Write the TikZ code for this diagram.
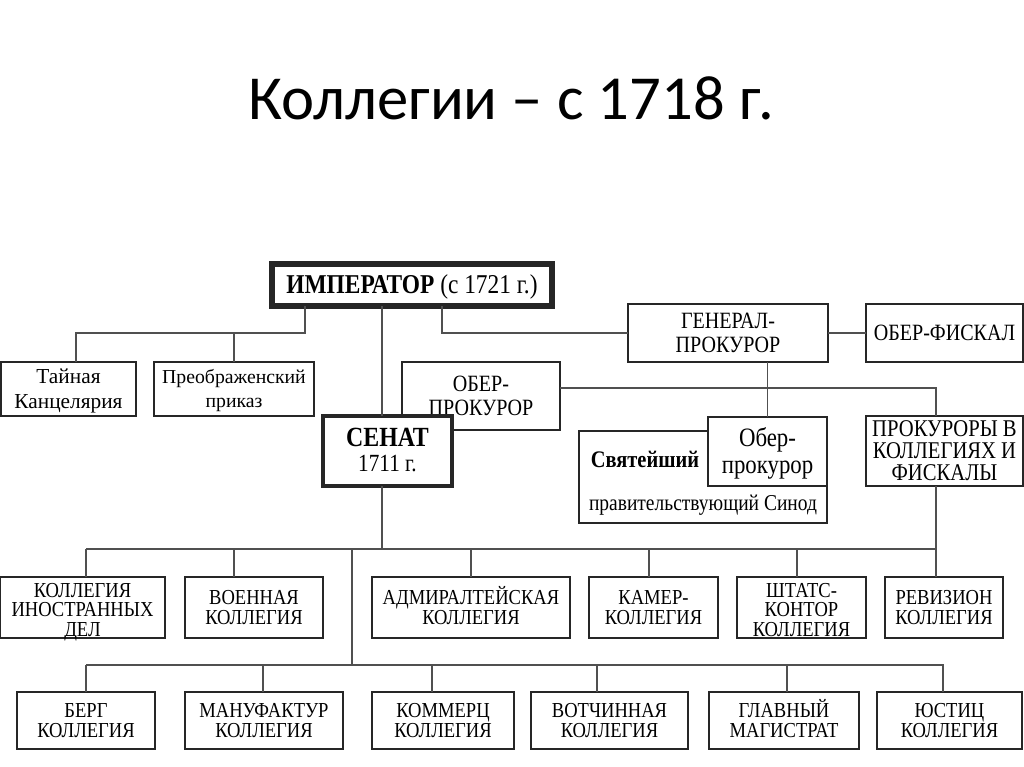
\documentclass[tikz,border=0pt]{standalone}
\usepackage{fontspec}
\setmainfont{Liberation Serif}[FakeStretch=0.86]
\newfontfamily\normfont{Liberation Serif}
\newfontfamily\collfont{Liberation Serif}[FakeStretch=0.87]
\newfontfamily\titlefont{Carlito}
\definecolor{boxc}{HTML}{262626}
\definecolor{linec}{HTML}{505050}
\newcommand\fTop{\fontsize{17.5}{17.5}\selectfont}
\newcommand\fColl{\collfont\fontsize{16}{14.7}\selectfont}
\newcommand\lowr{\rule{0pt}{17.5pt}}
\tikzset{
  box/.style={draw=boxc, line width=2.2pt, fill=white, inner sep=0pt, outer sep=0pt},
  coll/.style={box, line width=1.5pt},
  conn/.style={draw=linec, line width=1.2pt},
  txt/.style={inner sep=0pt, align=center, execute at begin node={\lineskiplimit=-50pt}},
}
% [box options]{x1}{y1}{x2}{y2}{name}{font}{text}
\newcommand\mybox[8][]{%
  \node[box,#1, minimum width={(#4-#2)*0.75pt}, minimum height={(#5-#3)*0.75pt}] (#6) at ({(#2+#4)/2},{(#3+#5)/2}) {};
  \node[txt, font=#7] (#6t) at (#6.center) {\vphantom{Й}#8\vphantom{Д}};}
\begin{document}
\begin{tikzpicture}[x=0.75pt,y=-0.75pt]
\useasboundingbox[fill=white] (0,0) rectangle (1024,767);
\node[txt, anchor=base, font=\titlefont\fontsize{47}{52}\selectfont] (title) at (511,119) {Коллегии – с 1718 г.};

% top level
\mybox[line width=4pt]{272}{264}{552}{306}{emp}{\fontsize{20.4}{22}\selectfont}{\textbf{ИМПЕРАТОР} (с 1721 г.)}
\mybox{1}{362}{136}{416}{tai}{\normfont\fontsize{16}{18.75}\selectfont}{Тайная\\Канцелярия}
\mybox{154}{362}{314}{416}{pre}{\normfont\fontsize{14.8}{18}\selectfont}{Преображенский\\приказ}
\mybox{628}{304}{828}{362}{gen}{\fTop}{ГЕНЕРАЛ-\\ПРОКУРОР}
\mybox{866}{304}{1023}{362}{fis}{\fTop}{ОБЕР-ФИСКАЛ}
\mybox{402}{362}{560}{430}{opr}{\fTop}{ОБЕР-\\ПРОКУРОР}
\mybox[line width=2.6pt]{323}{416}{452}{486}{sen}{\fontsize{18.5}{19}\selectfont}{{\fontsize{20.8}{20}\selectfont\bfseries СЕНАТ}\\1711 г.}
\mybox{579}{431}{827}{523}{syn}{\fTop}{}
\mybox{708}{417}{827}{486}{sop}{\fontsize{19.9}{20.5}\selectfont}{Обер-\\прокурор}
\node[txt, font=\fontsize{17.8}{17}\selectfont\bfseries] (synA) at (645,459) {Святейший};
\node[txt, font=\fontsize{17}{17}\selectfont] (synB) at (703,505) {правительствующий Синод};
\mybox{866}{416}{1023}{486}{pro}{\fontsize{18}{16.5}\selectfont}{ПРОКУРОРЫ В\\КОЛЛЕГИЯХ И\\ФИСКАЛЫ}

% row 1
\mybox[coll]{0}{577}{165}{638}{r1a}{\fColl}{\lowr КОЛЛЕГИЯ\\ИНОСТРАННЫХ\\ДЕЛ}
\mybox[coll]{185}{577}{323}{638}{r1b}{\fColl}{ВОЕННАЯ\\КОЛЛЕГИЯ}
\mybox[coll]{372}{577}{570}{638}{r1c}{\fColl}{АДМИРАЛТЕЙСКАЯ\\КОЛЛЕГИЯ}
\mybox[coll]{589}{577}{718}{638}{r1d}{\fColl}{КАМЕР-\\КОЛЛЕГИЯ}
\mybox[coll]{737}{577}{866}{638}{r1e}{\fColl}{\lowr ШТАТС-\\КОНТОР\\КОЛЛЕГИЯ}
\mybox[coll]{885}{577}{1003}{638}{r1f}{\fColl}{РЕВИЗИОН\\КОЛЛЕГИЯ}
% row 2
\mybox[coll]{17}{692}{155}{749}{r2a}{\fColl}{БЕРГ\\КОЛЛЕГИЯ}
\mybox[coll]{185}{692}{343}{749}{r2b}{\fColl}{МАНУФАКТУР\\КОЛЛЕГИЯ}
\mybox[coll]{372}{692}{514}{749}{r2c}{\fColl}{КОММЕРЦ\\КОЛЛЕГИЯ}
\mybox[coll]{531}{692}{688}{749}{r2d}{\fColl}{ВОТЧИННАЯ\\КОЛЛЕГИЯ}
\mybox[coll]{709}{692}{859}{749}{r2e}{\fColl}{ГЛАВНЫЙ\\МАГИСТРАТ}
\mybox[coll]{877}{692}{1022}{749}{r2f}{\fColl}{ЮСТИЦ\\КОЛЛЕГИЯ}

% junction coordinates
\coordinate (jL) at (305,333);
\coordinate (dTai) at (76,333);
\coordinate (dPre) at (234,333);
\coordinate (jR) at (442,333);
\coordinate (vS) at (382,549);
\coordinate (jP) at (936,388);
\coordinate (b1L) at (86,549);
\coordinate (b1R) at (936,549);
\coordinate (d1b) at (234,549);
\coordinate (d1c) at (471,549);
\coordinate (d1d) at (649,549);
\coordinate (d1e) at (797,549);
\coordinate (v2) at (352,549);
\coordinate (b2L) at (86,665);
\coordinate (b2R) at (943,665);
\coordinate (d2b) at (263,665);
\coordinate (d2c) at (432,665);
\coordinate (d2d) at (597,665);
\coordinate (d2e) at (787,665);

% connectors
\draw[conn] (emp.south -| jL) -- (jL) -- (dTai) -- (dTai |- tai.north);
\draw[conn] (dPre) -- (dPre |- pre.north);
\draw[conn] (emp.south -| jR) -- (jR) -- (jR -| gen.west);
\draw[conn] (gen.east) -- (fis.west);
\draw[conn] (vS |- emp.south) -- (vS |- sen.north);
\draw[conn] (vS |- sen.south) -- (vS);
\draw[conn] (gen.south -| sop.north) -- (sop.north);
\draw[conn] (jP -| opr.east) -- (jP) -- (jP |- pro.north);
\draw[conn] (jP |- pro.south) -- (b1R) -- (b1R |- r1f.north);
\draw[conn] (b1L) -- (b1R);
\draw[conn] (b1L) -- (b1L |- r1a.north);
\draw[conn] (d1b) -- (d1b |- r1b.north);
\draw[conn] (d1c) -- (d1c |- r1c.north);
\draw[conn] (d1d) -- (d1d |- r1d.north);
\draw[conn] (d1e) -- (d1e |- r1e.north);
\draw[conn] (v2) -- (v2 |- b2L);
\draw[conn] (b2L) -- (b2R) -- (b2R |- r2f.north);
\draw[conn] (b2L) -- (b2L |- r2a.north);
\draw[conn] (d2b) -- (d2b |- r2b.north);
\draw[conn] (d2c) -- (d2c |- r2c.north);
\draw[conn] (d2d) -- (d2d |- r2d.north);
\draw[conn] (d2e) -- (d2e |- r2e.north);
\end{tikzpicture}
\end{document}
